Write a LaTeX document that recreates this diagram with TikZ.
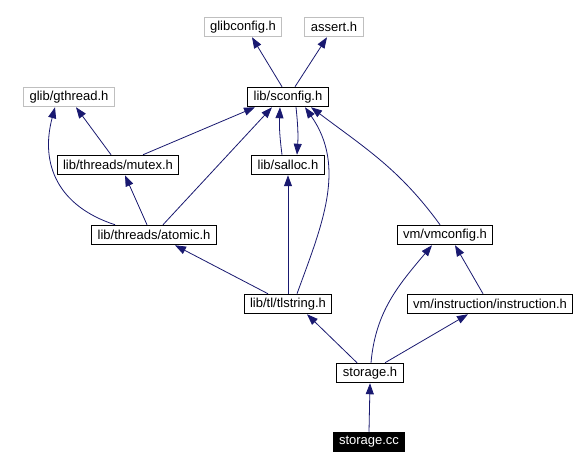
\documentclass[tikz,border=0pt]{standalone}
\usepackage{fontspec}
\setmainfont{Liberation Sans}
\usetikzlibrary{arrows.meta}
\definecolor{edgeblue}{RGB}{25,25,112}
\definecolor{extgray}{RGB}{191,191,191}
\begin{document}
\begin{tikzpicture}[x=1pt,y=-1pt,
	hfile/.style={draw=black,line width=1pt,inner xsep=6pt,inner ysep=0pt,minimum height=19.5pt,font=\fontsize{13}{15}\selectfont},
	extfile/.style={hfile,draw=extgray},
	topfile/.style={hfile,fill=black,text=white},
	dep/.style={draw=edgeblue,line width=0.8pt,-{Triangle[length=11pt,width=8pt]}}]
		\useasboundingbox[fill=white](0,0) rectangle (577,470);
		
		\node[extfile] (glibconfig) at (243,27) {glibconfig.h};
		\node[extfile] (assert) at (334,27) {assert.h};
		\node[extfile] (gthread) at (69,97) {glib/gthread.h};
		\node[hfile] (sconfig) at (288,97) {lib/sconfig.h};
		\node[hfile] (mutex) at (118,165) {lib/threads/mutex.h};
		\node[hfile] (salloc) at (288,165) {lib/salloc.h};
		\node[hfile] (atomic) at (154,235) {lib/threads/atomic.h};
		\node[hfile] (vmconfig) at (445,235) {vm/vmconfig.h};
		\node[hfile] (tlstring) at (288,304) {lib/tl/tlstring.h};
		\node[hfile] (instruction) at (490,304) {vm/instruction/instruction.h};
		\node[hfile] (storageh) at (370,373) {storage.h};
		\node[topfile] (storagecc) at (369,442) {storage.cc};
		
		\draw[dep]([xshift=-6pt]sconfig.north)--([xshift=9pt]glibconfig.south);
		\draw[dep]([xshift=7pt]sconfig.north)--([xshift=-7pt]assert.south);
		
		\draw[dep]([xshift=-7pt]mutex.north)--([xshift=7pt]gthread.south);
		\draw[dep]([xshift=25pt]mutex.north)--([xshift=-33pt]sconfig.south);
		
		\draw[dep]([xshift=-39pt]atomic.north) to[out=162,in=-105,looseness=1.15] ([xshift=-14pt]gthread.south);
		\draw[dep]([xshift=-7pt]atomic.north)--([xshift=7pt]mutex.south);
		\draw[dep]([xshift=9pt]atomic.north)--([xshift=-16pt]sconfig.south);
		
		\draw[dep]([xshift=-6pt]salloc.north) to[bend left=5] ([xshift=-8pt]sconfig.south);
		\draw[dep]([xshift=8pt]sconfig.south) to[bend left=5] ([xshift=9pt]salloc.north);
		
		\draw[dep](tlstring.north)--(salloc.south);
		\draw[dep]([xshift=9pt]tlstring.north) to[out=70,in=-55] ([xshift=17pt]sconfig.south);
		\draw[dep]([xshift=-20pt]tlstring.north)--([xshift=21pt]atomic.south);
		
		\draw[dep]([xshift=-5pt]vmconfig.north) to[out=126,in=-37] ([xshift=23pt]sconfig.south);
		\draw[dep]([xshift=-7pt]instruction.north)--([xshift=10pt]vmconfig.south);
		
		\draw[dep]([xshift=-13pt]storageh.north)--([xshift=19pt]tlstring.south);
		\draw[dep]([xshift=1pt]storageh.north) to[out=85,in=-130] ([xshift=-13pt]vmconfig.south);
		\draw[dep]([xshift=15pt]storageh.north)--([xshift=-22pt]instruction.south);
		
		\draw[dep](storagecc.north)--(storageh.south);
\end{tikzpicture}
\end{document}
